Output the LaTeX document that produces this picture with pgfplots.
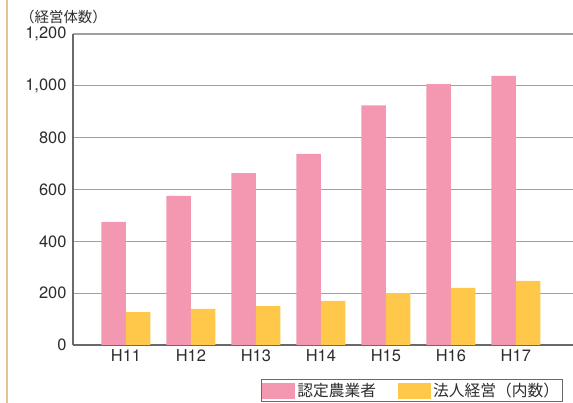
\documentclass[border=0pt]{standalone}
\usepackage{fontspec}
\setmainfont{TeX Gyre Heros}
\newfontfamily\cjk{Noto Sans CJK JP}
\usepackage{pgfplots}
\pgfplotsset{compat=1.18}
\definecolor{cPink}{RGB}{243,152,176}
\definecolor{cYel}{RGB}{255,200,75}
\definecolor{cTan}{RGB}{226,196,152}
\definecolor{cGrid}{RGB}{160,160,160}
\definecolor{cAxis}{RGB}{105,105,105}
\definecolor{cText}{RGB}{45,45,45}
\pgfplotsset{swatch/.style={legend image code/.code={\path[##1,draw=none] (0bp,-8bp) rectangle (33bp,8bp);}}}

\begin{document}
\begin{tikzpicture}
\path[use as bounding box] (0,0) rectangle (573bp,403bp);
\draw[cTan,line width=2bp] (6.5bp,0) -- (6.5bp,403bp);
\node[anchor=west,font=\cjk\fontsize{14.5}{17}\selectfont,text=cText,inner sep=0pt] at (20bp,386bp) {（経営体数）};
\begin{axis}[at={(73bp,58bp)}, anchor=south west,
  width=500bp, height=311bp, scale only axis,
  ymin=0, ymax=1200, xmin=-0.815, xmax=6.88,
  ytick={0,200,...,1200}, xtick={0,...,6},
  xticklabels={H11,H12,H13,H14,H15,H16,H17},
  ymajorgrids, grid style={cGrid,line width=1.2bp},
  axis x line*=bottom, axis y line*=left,
  axis line style={cAxis,line width=1.2bp},
  major tick length=0pt,
  tick label style={font=\fontsize{16.5}{19}\selectfont,text=cText},
  yticklabel style={xshift=-3bp},
  xticklabel style={yshift=-1bp},
  /pgf/number format/assume math mode=true,
  /pgf/number format/1000 sep={,},
  ybar=0pt, bar width=24.5bp,
  legend columns=2, legend cell align=left,
  legend style={at={(0.98,-0.1833)}, anchor=south east,
    draw=cAxis, line width=0.8bp, inner sep=1.5bp,
    font=\cjk\fontsize{15.8}{18}\selectfont, text=cText,
    /tikz/every even column/.append style={column sep=20bp}}]
  \addplot[fill=cPink,draw=none,swatch] coordinates {(0,475) (1,575) (2,663) (3,737) (4,925) (5,1007) (6,1038)};
  \addlegendentry{認定農業者}
  \addplot[fill=cYel,draw=none,swatch] coordinates {(0,127) (1,139) (2,150) (3,170) (4,200) (5,220) (6,247)};
  \addlegendentry{法人経営（内数）}
\end{axis}
\end{tikzpicture}
\end{document}
